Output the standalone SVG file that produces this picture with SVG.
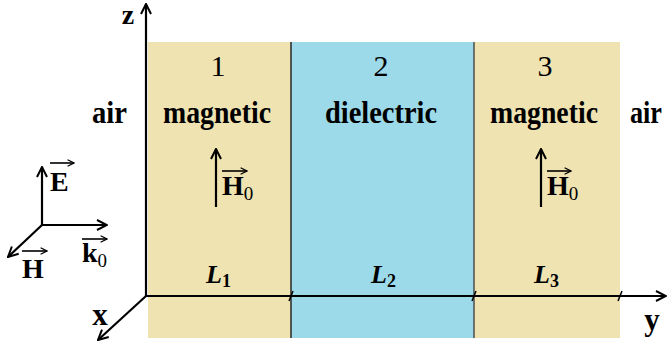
<svg xmlns="http://www.w3.org/2000/svg" width="670" height="346" viewBox="0 0 670 346">
<defs>
<marker id="ah" viewBox="0 0 12 12" refX="11" refY="6" markerWidth="12" markerHeight="12" markerUnits="userSpaceOnUse" orient="auto">
<path d="M1,1 L11,6 L1,11" fill="none" stroke="#000" stroke-width="2"/>
</marker>
<marker id="ov" viewBox="0 0 10 10" refX="9" refY="5" markerWidth="8" markerHeight="8" markerUnits="userSpaceOnUse" orient="auto">
<path d="M1,1 L9,5 L1,9" fill="none" stroke="#000" stroke-width="1.6"/>
</marker>
</defs>
<style>
.t{font-family:"Liberation Serif","Times New Roman",serif;font-weight:bold;fill:#000;font-size:31px;text-anchor:middle}
.v{font-family:"Liberation Serif","Times New Roman",serif;font-weight:bold;fill:#000;font-size:28px;text-anchor:start}
.s{font-size:19px;font-weight:normal}
.n{font-family:"Liberation Serif","Times New Roman",serif;fill:#000;font-size:30px;text-anchor:middle}
.l{font-family:"Liberation Serif","Times New Roman",serif;font-weight:bold;font-style:italic;fill:#000;font-size:26px;text-anchor:start}
.ax{stroke:#000;stroke-width:2.2;fill:none}
.ov{stroke:#000;stroke-width:1.6;fill:none}
</style>
<rect width="670" height="346" fill="#fff"/>
<g id="slab1">
<rect x="148" y="42" width="143" height="296" fill="#EEE3B1"/>
<text class="n" x="218" y="76">1</text>
<text class="t" x="163" y="123" textLength="108" lengthAdjust="spacingAndGlyphs" style="text-anchor:start">magnetic</text>
</g>
<g id="slab2">
<rect x="291" y="42" width="183" height="296" fill="#9CD9E9"/>
<text class="n" x="381" y="76">2</text>
<text class="t" x="325" y="123" textLength="112" lengthAdjust="spacingAndGlyphs" style="text-anchor:start">dielectric</text>
</g>
<g id="slab3">
<rect x="474" y="42" width="146" height="296" fill="#EEE3B1"/>
<text class="n" x="545" y="76">3</text>
<text class="t" x="490" y="123" textLength="108" lengthAdjust="spacingAndGlyphs" style="text-anchor:start">magnetic</text>
</g>
<g id="air-left"><text class="t" x="92" y="123" textLength="35" lengthAdjust="spacingAndGlyphs" style="text-anchor:start">air</text></g>
<g id="air-right"><text class="t" x="630" y="123" textLength="32" lengthAdjust="spacingAndGlyphs" style="text-anchor:start">air</text></g>
<g id="connectors">
<line x1="291" y1="42" x2="291" y2="338" stroke="#333" stroke-width="1.6"/>
<line x1="474" y1="42" x2="474" y2="338" stroke="#444" stroke-width="1.4"/>
<line class="ax" x1="146" y1="296" x2="146" y2="4" marker-end="url(#ah)"/>
<line class="ax" x1="146" y1="296" x2="666" y2="296" marker-end="url(#ah)"/>
<line class="ax" x1="146" y1="296" x2="98" y2="340" marker-end="url(#ah)"/>
<line x1="289" y1="301" x2="293" y2="291" stroke="#000" stroke-width="1.5"/>
<line x1="472" y1="301" x2="476" y2="291" stroke="#000" stroke-width="1.5"/>
<line x1="618" y1="301" x2="622" y2="291" stroke="#000" stroke-width="1.5"/>
<line class="ax" x1="216" y1="207" x2="216" y2="149" marker-end="url(#ah)"/>
<line class="ax" x1="541" y1="207" x2="541" y2="149" marker-end="url(#ah)"/>
<line class="ax" x1="42" y1="225" x2="42" y2="167" marker-end="url(#ah)"/>
<line class="ax" x1="42" y1="225" x2="107" y2="225" marker-end="url(#ah)"/>
<line class="ax" x1="42" y1="225" x2="8" y2="257" marker-end="url(#ah)"/>
</g>
<g id="axis-labels">
<text class="t" x="128" y="24" style="font-size:28px">z</text>
<text class="t" x="652" y="330">y</text>
<text class="t" x="100" y="325">x</text>
</g>
<g id="field-labels">
<text class="v" x="50" y="191">E</text>
<line class="ov" x1="50" y1="163" x2="74" y2="163" marker-end="url(#ov)"/>
<text class="v" x="22" y="278">H</text>
<line class="ov" x1="22" y1="251" x2="47" y2="251" marker-end="url(#ov)"/>
<text class="v" x="82" y="262">k<tspan class="s" dy="5">0</tspan></text>
<line class="ov" x1="82" y1="239" x2="107" y2="239" marker-end="url(#ov)"/>
<text class="v" x="222" y="195">H<tspan class="s" dy="5">0</tspan></text>
<line class="ov" x1="222" y1="171" x2="247" y2="171" marker-end="url(#ov)"/>
<text class="v" x="547" y="195">H<tspan class="s" dy="5">0</tspan></text>
<line class="ov" x1="547" y1="171" x2="571" y2="171" marker-end="url(#ov)"/>
</g>
<g id="lengths">
<text class="l" x="206" y="283">L<tspan dy="4" style="font-size:18px;font-style:normal">1</tspan></text>
<text class="l" x="371" y="283">L<tspan dy="4" style="font-size:18px;font-style:normal">2</tspan></text>
<text class="l" x="534" y="283">L<tspan dy="4" style="font-size:18px;font-style:normal">3</tspan></text>
</g>
</svg>
